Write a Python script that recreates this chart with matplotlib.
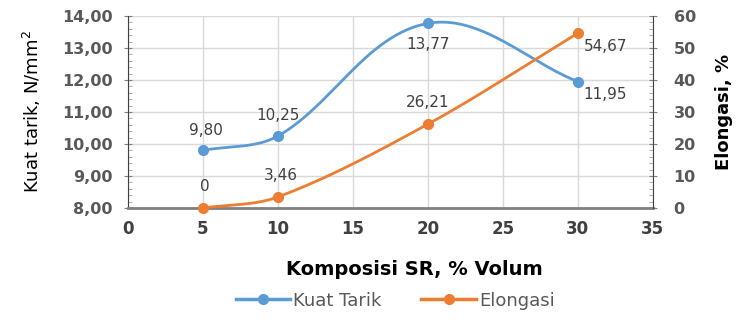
import numpy as np
import matplotlib
matplotlib.use("Agg")
import matplotlib.pyplot as plt
from matplotlib.ticker import MultipleLocator, FuncFormatter
from matplotlib.lines import Line2D

komposisi = [5, 10, 20, 30]
kuat_tarik = [9.80, 10.25, 13.77, 11.95]
elongasi = [0, 3.46, 26.21, 54.67]
kt_labels = ["9,80", "10,25", "13,77", "11,95"]
el_labels = ["0", "3,46", "26,21", "54,67"]

BLUE = "#5B9BD5"
ORANGE = "#ED7D31"
GRAY = "#595959"

FIG_W, FIG_H = 7.53, 3.2
AX_RECT = [0.17, 0.35, 0.697, 0.60]
AX_WPX = AX_RECT[2] * FIG_W * 100
AX_HPX = AX_RECT[3] * FIG_H * 100


def smooth(xs, ys, xr, yr, n=60):
    # Excel-like smoothing done in pixel space
    sx = AX_WPX / (xr[1] - xr[0])
    sy = AX_HPX / (yr[1] - yr[0])
    P = np.column_stack([np.asarray(xs, float) * sx, np.asarray(ys, float) * sy])
    m = len(P)
    T = []
    for i in range(m):
        a = P[max(i - 1, 0)]
        b = P[min(i + 1, m - 1)]
        d = b - a
        T.append(d / np.linalg.norm(d))
    out = []
    for i in range(m - 1):
        p1, p2 = P[i], P[i + 1]
        L = np.linalg.norm(p2 - p1)
        c1 = p1 + T[i] * L / 3
        c2 = p2 - T[i + 1] * L / 3
        t = np.linspace(0, 1, n)[:, None]
        seg = ((1 - t) ** 3) * p1 + 3 * ((1 - t) ** 2) * t * c1 + 3 * (1 - t) * t ** 2 * c2 + t ** 3 * p2
        out.append(seg)
    s = np.vstack(out)
    return s[:, 0] / sx, s[:, 1] / sy


fig = plt.figure(figsize=(FIG_W, FIG_H), dpi=100)
ax = fig.add_axes(AX_RECT)
ax2 = ax.twinx()

XR, Y1R, Y2R = (0, 35), (8, 14), (0, 60)
ax.set_xlim(*XR)
ax.set_ylim(*Y1R)
ax2.set_ylim(*Y2R)

ax.xaxis.set_major_locator(MultipleLocator(5))
ax.yaxis.set_major_locator(MultipleLocator(1))
ax.yaxis.set_minor_locator(MultipleLocator(0.2))
ax2.yaxis.set_major_locator(MultipleLocator(10))
ax2.yaxis.set_minor_locator(MultipleLocator(2))

ax.grid(True, which="major", color="#D9D9D9", lw=1)
ax.set_axisbelow(True)

ax.yaxis.set_major_formatter(FuncFormatter(lambda v, p: f"{v:.2f}".replace(".", ",")))
ax.xaxis.set_major_formatter(FuncFormatter(lambda v, p: f"{v:.0f}"))

for a in (ax, ax2):
    for s in a.spines.values():
        s.set_visible(False)
ax.spines["left"].set_visible(True)
ax.spines["left"].set_color("#404040")
ax.spines["bottom"].set_visible(True)
ax.spines["bottom"].set_color("#7F7F7F")
ax.spines["bottom"].set_linewidth(2)
ax2.spines["right"].set_visible(True)
ax2.spines["right"].set_color("#404040")

ax.tick_params(axis="y", which="major", direction="inout", length=6, color="#808080",
               labelsize=11.5, labelcolor=GRAY, pad=8)
ax.tick_params(axis="y", which="minor", direction="in", length=3, color="#A0A0A0")
ax2.tick_params(axis="y", which="major", direction="inout", length=6, color="#808080",
                labelsize=11.5, labelcolor=GRAY, pad=12)
ax2.tick_params(axis="y", which="minor", direction="in", length=3, color="#A0A0A0")
ax.tick_params(axis="x", length=0, labelsize=12, labelcolor="#404040", pad=9)
for lbl in ax.get_yticklabels() + ax2.get_yticklabels():
    lbl.set_fontweight("bold")
for lbl in ax.get_xticklabels():
    lbl.set_fontweight("bold")

sx, sy = smooth(komposisi, kuat_tarik, XR, Y1R)
ax.plot(sx, sy, color=BLUE, lw=2, zorder=3, clip_on=False)
ax.plot(komposisi, kuat_tarik, "o", color=BLUE, ms=7, zorder=4, clip_on=False)

ex, ey = smooth(komposisi, elongasi, XR, Y2R)
ax2.plot(ex, ey, color=ORANGE, lw=2, zorder=3, clip_on=False)
ax2.plot(komposisi, elongasi, "o", color=ORANGE, ms=7, zorder=4, clip_on=False)

kt_off = [((2, 9), "center", "bottom"), ((0, 9), "center", "bottom"),
          ((0, -10), "center", "top"), ((4, -4), "left", "top")]
for x, y, t, (off, ha, va) in zip(komposisi, kuat_tarik, kt_labels, kt_off):
    ax.annotate(t, (x, y), xytext=off, textcoords="offset points", ha=ha, va=va,
                fontsize=11, color="#404040")
el_off = [((1, 10), "center", "bottom"), ((2, 10), "center", "bottom"),
          ((0, 10), "center", "bottom"), ((4, -4), "left", "top")]
for x, y, t, (off, ha, va) in zip(komposisi, elongasi, el_labels, el_off):
    ax2.annotate(t, (x, y), xytext=off, textcoords="offset points", ha=ha, va=va,
                 fontsize=11, color="#404040")

ax.set_ylabel("Kuat tarik, N/mm$^2$", fontsize=13, color="black", labelpad=14)
ax2.set_ylabel("Elongasi, %", fontsize=13, fontweight="bold", color="black", labelpad=14)
ax.set_xlabel("Komposisi SR, % Volum", fontsize=14, fontweight="bold", color="black")
ax.xaxis.set_label_coords(0.545, -0.27)

handles = [Line2D([], [], color=BLUE, lw=2.5, marker="o", ms=7),
           Line2D([], [], color=ORANGE, lw=2.5, marker="o", ms=7)]
fig.legend(handles, ["Kuat Tarik", "Elongasi"], loc="center", bbox_to_anchor=(0.525, 0.06),
           ncol=2, frameon=False, prop={"size": 13},
           labelcolor=GRAY, handlelength=3.0, columnspacing=2.2, handletextpad=0.2)

fig.savefig("out.png", dpi=100)
